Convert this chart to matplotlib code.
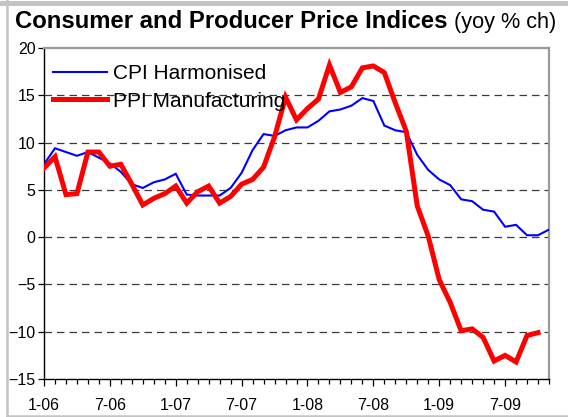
import matplotlib
matplotlib.use("Agg")
import matplotlib.pyplot as plt
from matplotlib.lines import Line2D
from matplotlib.ticker import MultipleLocator, FixedLocator, FixedFormatter
import numpy as np

plt.rcParams["font.family"] = ["Liberation Sans", "DejaVu Sans"]

# Monthly year-on-year % change, Jan 2006 onwards
cpi_harmonised = [
    7.7, 9.4, 9.0, 8.6, 9.0, 8.4, 7.8, 6.9, 5.6, 5.2, 5.8, 6.1,
    6.7, 4.5, 4.4, 4.4, 4.4, 5.2, 6.8, 9.2, 10.9, 10.7, 11.3, 11.6,
    11.6, 12.3, 13.3, 13.5, 13.9, 14.7, 14.4, 11.8, 11.3, 11.1, 8.7, 7.1,
    6.1, 5.5, 4.0, 3.8, 2.9, 2.7, 1.1, 1.3, 0.2, 0.2, 0.8,
]
ppi_manufacturing = [
    7.3, 8.5, 4.5, 4.6, 9.0, 9.0, 7.5, 7.7, 5.6, 3.4, 4.1, 4.6,
    5.4, 3.6, 4.8, 5.4, 3.6, 4.3, 5.6, 6.1, 7.4, 10.6, 14.8, 12.4,
    13.6, 14.6, 18.2, 15.3, 15.9, 17.9, 18.1, 17.4, 14.2, 11.2, 3.3, 0.1,
    -4.5, -6.9, -9.9, -9.7, -10.6, -13.1, -12.5, -13.2, -10.4, -10.1,
]
tick_months = [0, 6, 12, 18, 24, 30, 36, 42]
tick_labels = ["1-06", "7-06", "1-07", "7-07", "1-08", "7-08", "1-09", "7-09"]
y_ticks = [20, 15, 10, 5, 0, -5, -10, -15]

W, H = 568, 417
fig = plt.figure(figsize=(W / 100, H / 100), dpi=100)
fig.patch.set_facecolor("white")

# light grey outer frame
frame_col = "#c4c4c4"
fig.add_artist(Line2D([0, 1], [1 - 2.5 / H, 1 - 2.5 / H], transform=fig.transFigure,
                      color=frame_col, lw=3.6))
fig.add_artist(Line2D([7 / W, 7 / W], [1.5 / H, 1], transform=fig.transFigure,
                      color=frame_col, lw=1.8))
fig.add_artist(Line2D([7 / W, 1], [1.5 / H, 1.5 / H], transform=fig.transFigure,
                      color=frame_col, lw=1.8))

left, right, top, bottom = 44, 549, 48, 379
ax = fig.add_axes([left / W, (H - bottom) / H, (right - left) / W, (bottom - top) / H])

x_cpi = np.arange(len(cpi_harmonised))
x_ppi = np.arange(len(ppi_manufacturing))

for g in [15, 10, 5, 0, -5, -10]:
    ax.axhline(g, color="#3a3a3a", lw=0.9, dashes=(6, 4), zorder=1)

ax.plot(x_cpi, cpi_harmonised, color="#0000ff", lw=1.5, label="CPI Harmonised",
        zorder=3, solid_joinstyle="miter")
ax.plot(x_ppi, ppi_manufacturing, color="#ff0000", lw=3.6, label="PPI Manufacturing",
        zorder=4, solid_joinstyle="miter")

ax.set_xlim(0, 46)
ax.set_ylim(-15, 20)

ax.xaxis.set_major_locator(FixedLocator(tick_months))
ax.xaxis.set_major_formatter(FixedFormatter(tick_labels))
ax.xaxis.set_minor_locator(MultipleLocator(1))
ax.set_yticks(y_ticks)

ax.tick_params(axis="x", which="major", direction="out", length=5, width=0.9,
               labelsize=11.5, pad=9, colors="black")
ax.tick_params(axis="x", which="minor", direction="out", length=3.5, width=0.9)
ax.tick_params(axis="y", which="major", direction="out", length=4, width=0.9,
               labelsize=11.5, pad=2)

for s in ["left", "bottom"]:
    ax.spines[s].set_color("black")
    ax.spines[s].set_linewidth(1.0)
for s in ["top", "right"]:
    ax.spines[s].set_color("#9a9a9a")
    ax.spines[s].set_linewidth(1.6)

leg = ax.legend(loc="upper left", bbox_to_anchor=((53 - left) / (right - left), 0.951),
                frameon=False, fontsize=15, handlelength=2.6, handletextpad=0.3,
                labelspacing=0.4, borderpad=0, borderaxespad=0)

# title: bold main part followed by a regular suffix
t1 = fig.text(15 / W, 1 - 28 / H, "Consumer and Producer Price Indices",
              fontsize=17.2, fontweight="bold", ha="left", va="baseline")
fig.canvas.draw()
bb = t1.get_window_extent()
fig.text(bb.x1 / W, 1 - 28 / H, " (yoy % ch)", fontsize=15.6,
         ha="left", va="baseline")

fig.savefig("out.png", dpi=100, facecolor="white")
